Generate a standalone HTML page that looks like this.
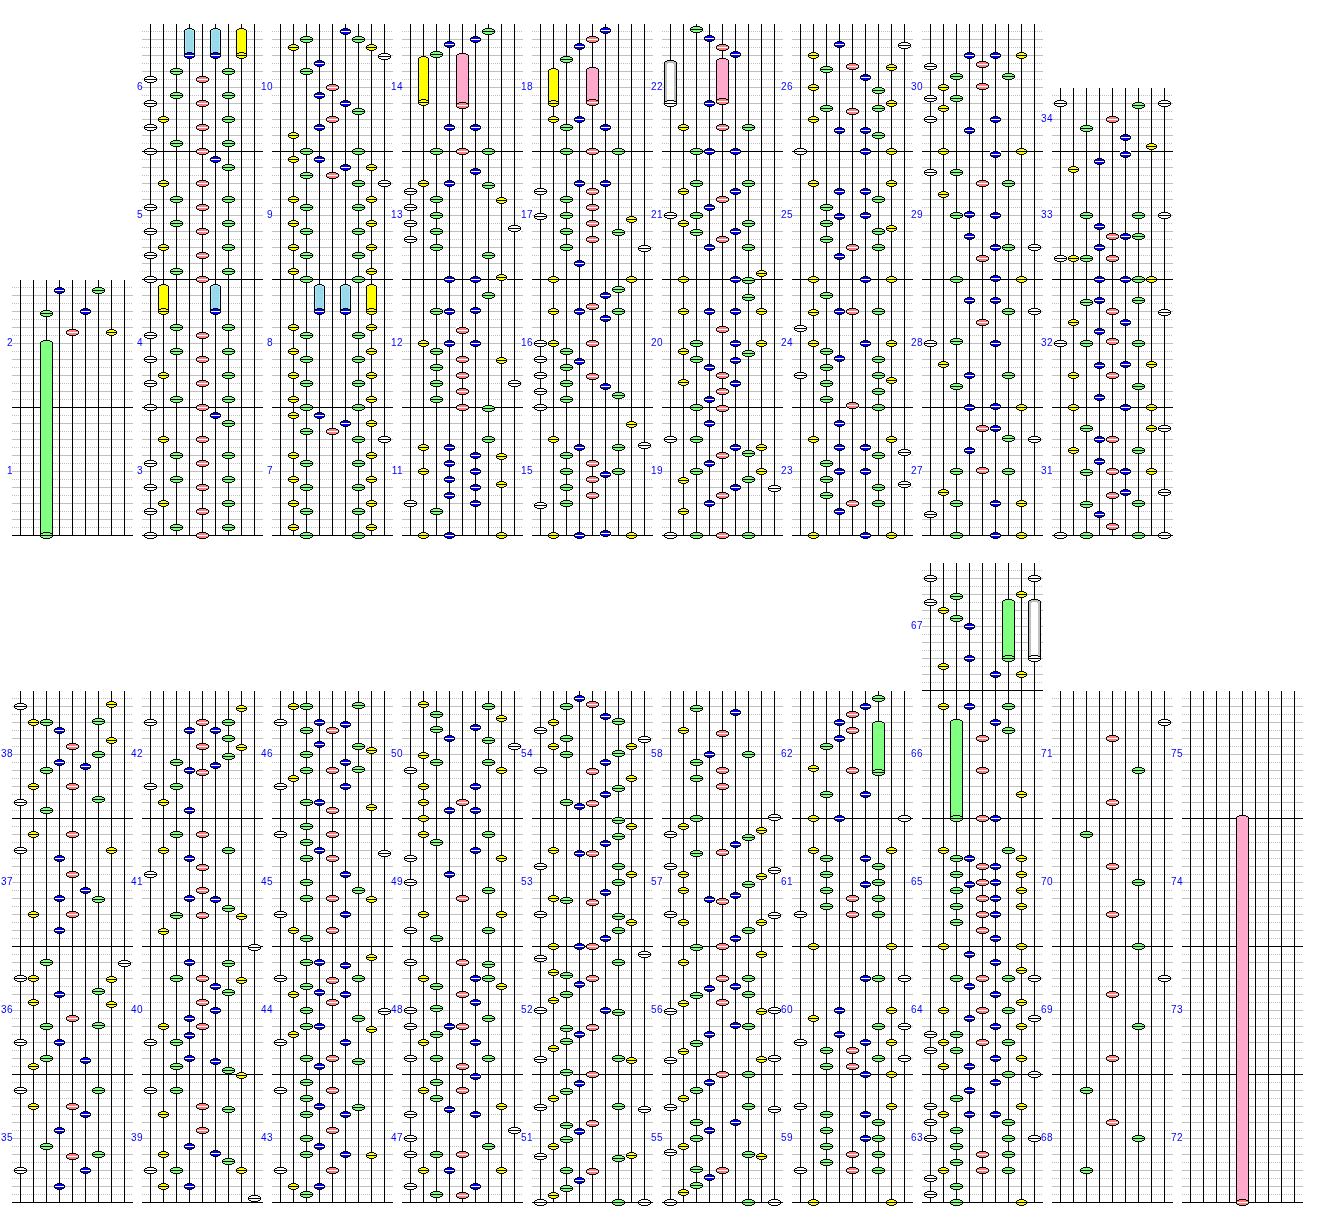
<!DOCTYPE html><html><head><meta charset="utf-8"><title>chart</title><style>html,body{margin:0;padding:0;background:#fff}svg{display:block}text{font-family:"Liberation Sans",sans-serif;font-size:10px;fill:#0000ff;letter-spacing:.45px}</style></head><body>
<svg width="1320" height="1220" viewBox="0 0 1320 1220" shape-rendering="crispEdges">
<defs>
<symbol id="nw" overflow="visible"><path fill="#fff" d="M-6-3h3v1h-3zM4-3h3v1h-3zM-6 3h3v1h-3zM4 3h3v1h-3zM-6-2h1v1h-1zM6-2h1v1h-1zM-6 2h1v1h-1zM6 2h1v1h-1z"/><path d="M-3-3h7v1h2v1h1v3h-1v1h-2v1h-7v-1h-2v-1h-1v-3h1v-1h2z" fill="#000"/><path d="M-3-2h7v1h2v1h-11v-1h2z M-5 1h11v1h-2v1h-7v-1h-2z" fill="#ffffff"/></symbol>
<symbol id="ng" overflow="visible"><path fill="#fff" d="M-6-3h3v1h-3zM4-3h3v1h-3zM-6 3h3v1h-3zM4 3h3v1h-3zM-6-2h1v1h-1zM6-2h1v1h-1zM-6 2h1v1h-1zM6 2h1v1h-1z"/><path d="M-3-3h7v1h2v1h1v3h-1v1h-2v1h-7v-1h-2v-1h-1v-3h1v-1h2z" fill="#000"/><path d="M-3-2h7v1h2v1h-11v-1h2z M-5 1h11v1h-2v1h-7v-1h-2z" fill="#80ff80"/></symbol>
<symbol id="np" overflow="visible"><path fill="#fff" d="M-6-3h3v1h-3zM4-3h3v1h-3zM-6 3h3v1h-3zM4 3h3v1h-3zM-6-2h1v1h-1zM6-2h1v1h-1zM-6 2h1v1h-1zM6 2h1v1h-1z"/><path d="M-3-3h7v1h2v1h1v3h-1v1h-2v1h-7v-1h-2v-1h-1v-3h1v-1h2z" fill="#000"/><path d="M-3-2h7v1h2v1h-11v-1h2z M-5 1h11v1h-2v1h-7v-1h-2z" fill="#ff8080"/><rect x="-5" y="0" width="11" height="1" fill="#fff"/></symbol>
<symbol id="ny" overflow="visible"><path fill="#fff" d="M-5-3h3v1h-3zM3-3h3v1h-3zM-5 3h3v1h-3zM3 3h3v1h-3zM-5-2h1v1h-1zM5-2h1v1h-1zM-5 2h1v1h-1zM5 2h1v1h-1z"/><path d="M-2-3h5v1h2v1h1v3h-1v1h-2v1h-5v-1h-2v-1h-1v-3h1v-1h2z" fill="#000"/><path d="M-2-2h5v1h2v1h-9v-1h2z M-4 1h9v1h-2v1h-5v-1h-2z" fill="#ffff00"/></symbol>
<symbol id="nb" overflow="visible"><path fill="#fff" d="M-5-3h3v1h-3zM3-3h3v1h-3zM-5 3h3v1h-3zM3 3h3v1h-3zM-5-2h1v1h-1zM5-2h1v1h-1zM-5 2h1v1h-1zM5 2h1v1h-1z"/><path d="M-2-3h5v1h2v1h1v3h-1v1h-2v1h-5v-1h-2v-1h-1v-3h1v-1h2z" fill="#000"/><path d="M-2-2h5v1h2v1h-9v-1h2z M-4 1h9v1h-2v1h-5v-1h-2z" fill="#0000ff"/><rect x="-4" y="0" width="9" height="1" fill="#fff"/></symbol>
<symbol id="hw" overflow="visible"><path d="M-3-3h7v1h2v1h1v3h-1v1h-2v1h-7v-1h-2v-1h-1v-3h1v-1h2z" fill="#000"/><path d="M-3-2h7v1h2v1h-11v-1h2z M-5 1h11v1h-2v1h-7v-1h-2z" fill="#ffffff"/></symbol>
<symbol id="hg" overflow="visible"><path d="M-3-3h7v1h2v1h1v3h-1v1h-2v1h-7v-1h-2v-1h-1v-3h1v-1h2z" fill="#000"/><path d="M-3-2h7v1h2v1h-11v-1h2z M-5 1h11v1h-2v1h-7v-1h-2z" fill="#80ff80"/></symbol>
<symbol id="hp" overflow="visible"><path d="M-3-3h7v1h2v1h1v3h-1v1h-2v1h-7v-1h-2v-1h-1v-3h1v-1h2z" fill="#000"/><path d="M-3-2h7v1h2v1h-11v-1h2z M-5 1h11v1h-2v1h-7v-1h-2z" fill="#ff8080"/><rect x="-5" y="0" width="11" height="1" fill="#fff"/></symbol>
<symbol id="hy" overflow="visible"><path d="M-2-3h5v1h2v1h1v3h-1v1h-2v1h-5v-1h-2v-1h-1v-3h1v-1h2z" fill="#000"/><path d="M-2-2h5v1h2v1h-9v-1h2z M-4 1h9v1h-2v1h-5v-1h-2z" fill="#ffff00"/></symbol>
<symbol id="hb" overflow="visible"><path d="M-2-3h5v1h2v1h1v3h-1v1h-2v1h-5v-1h-2v-1h-1v-3h1v-1h2z" fill="#000"/><path d="M-2-2h5v1h2v1h-9v-1h2z M-4 1h9v1h-2v1h-5v-1h-2z" fill="#0000ff"/><rect x="-4" y="0" width="9" height="1" fill="#fff"/></symbol>
<symbol id="dl" overflow="visible"><path fill="#c0c0c0" d="M0 0h1v1h-1zM2 0h1v1h-1zM4 0h1v1h-1zM6 0h1v1h-1zM9 0h1v1h-1zM11 0h1v1h-1zM13 0h1v1h-1zM15 0h1v1h-1zM17 0h1v1h-1zM19 0h1v1h-1zM22 0h1v1h-1zM24 0h1v1h-1zM26 0h1v1h-1zM28 0h1v1h-1zM30 0h1v1h-1zM32 0h1v1h-1zM35 0h1v1h-1zM37 0h1v1h-1zM39 0h1v1h-1zM41 0h1v1h-1zM43 0h1v1h-1zM45 0h1v1h-1zM48 0h1v1h-1zM50 0h1v1h-1zM52 0h1v1h-1zM54 0h1v1h-1zM56 0h1v1h-1zM58 0h1v1h-1zM61 0h1v1h-1zM63 0h1v1h-1zM65 0h1v1h-1zM67 0h1v1h-1zM69 0h1v1h-1zM71 0h1v1h-1zM74 0h1v1h-1zM76 0h1v1h-1zM78 0h1v1h-1zM80 0h1v1h-1zM82 0h1v1h-1zM84 0h1v1h-1zM87 0h1v1h-1zM89 0h1v1h-1zM91 0h1v1h-1zM93 0h1v1h-1zM95 0h1v1h-1zM97 0h1v1h-1zM100 0h1v1h-1zM102 0h1v1h-1zM104 0h1v1h-1zM106 0h1v1h-1zM108 0h1v1h-1zM110 0h1v1h-1zM113 0h1v1h-1zM115 0h1v1h-1zM117 0h1v1h-1zM119 0h1v1h-1z"/></symbol>
<symbol id="mg" overflow="visible"><use href="#dl" y="-8"/><rect x="0" y="-16" width="121" height="1" fill="#c0c0c0"/><use href="#dl" y="-24"/><rect x="0" y="-32" width="121" height="1" fill="#c0c0c0"/><use href="#dl" y="-40"/><rect x="0" y="-48" width="121" height="1" fill="#c0c0c0"/><use href="#dl" y="-56"/><rect x="0" y="-64" width="121" height="1" fill="#c0c0c0"/><use href="#dl" y="-72"/><rect x="0" y="-80" width="121" height="1" fill="#c0c0c0"/><use href="#dl" y="-88"/><rect x="0" y="-96" width="121" height="1" fill="#c0c0c0"/><use href="#dl" y="-104"/><rect x="0" y="-112" width="121" height="1" fill="#c0c0c0"/><use href="#dl" y="-120"/></symbol>
</defs>
<use href="#mg" x="12" y="535"/>
<use href="#mg" x="12" y="407"/>
<rect x="20" y="280" width="1" height="255"/>
<rect x="33" y="280" width="1" height="255"/>
<rect x="46" y="280" width="1" height="255"/>
<rect x="59" y="280" width="1" height="255"/>
<rect x="72" y="280" width="1" height="255"/>
<rect x="85" y="280" width="1" height="255"/>
<rect x="98" y="280" width="1" height="255"/>
<rect x="111" y="280" width="1" height="255"/>
<rect x="124" y="280" width="1" height="255"/>
<rect x="12" y="535" width="121" height="1"/>
<rect x="12" y="407" width="121" height="1"/>
<rect x="7" y="466" width="5" height="9" fill="#fff"/>
<text x="13" y="474" text-anchor="end">1</text>
<rect x="7" y="338" width="5" height="9" fill="#fff"/>
<text x="13" y="346" text-anchor="end">2</text>
<use href="#mg" x="142" y="535"/>
<use href="#mg" x="142" y="407"/>
<use href="#mg" x="142" y="279"/>
<use href="#mg" x="142" y="151"/>
<rect x="150" y="24" width="1" height="511"/>
<rect x="163" y="24" width="1" height="511"/>
<rect x="176" y="24" width="1" height="511"/>
<rect x="189" y="24" width="1" height="511"/>
<rect x="202" y="24" width="1" height="511"/>
<rect x="215" y="24" width="1" height="511"/>
<rect x="228" y="24" width="1" height="511"/>
<rect x="241" y="24" width="1" height="511"/>
<rect x="254" y="24" width="1" height="511"/>
<rect x="142" y="535" width="121" height="1"/>
<rect x="142" y="407" width="121" height="1"/>
<rect x="142" y="279" width="121" height="1"/>
<rect x="142" y="151" width="121" height="1"/>
<rect x="137" y="466" width="5" height="9" fill="#fff"/>
<text x="143" y="474" text-anchor="end">3</text>
<rect x="137" y="338" width="5" height="9" fill="#fff"/>
<text x="143" y="346" text-anchor="end">4</text>
<rect x="137" y="210" width="5" height="9" fill="#fff"/>
<text x="143" y="218" text-anchor="end">5</text>
<rect x="137" y="82" width="5" height="9" fill="#fff"/>
<text x="143" y="90" text-anchor="end">6</text>
<use href="#mg" x="272" y="535"/>
<use href="#mg" x="272" y="407"/>
<use href="#mg" x="272" y="279"/>
<use href="#mg" x="272" y="151"/>
<rect x="280" y="24" width="1" height="511"/>
<rect x="293" y="24" width="1" height="511"/>
<rect x="306" y="24" width="1" height="511"/>
<rect x="319" y="24" width="1" height="511"/>
<rect x="332" y="24" width="1" height="511"/>
<rect x="345" y="24" width="1" height="511"/>
<rect x="358" y="24" width="1" height="511"/>
<rect x="371" y="24" width="1" height="511"/>
<rect x="384" y="24" width="1" height="511"/>
<rect x="272" y="535" width="121" height="1"/>
<rect x="272" y="407" width="121" height="1"/>
<rect x="272" y="279" width="121" height="1"/>
<rect x="272" y="151" width="121" height="1"/>
<rect x="267" y="466" width="5" height="9" fill="#fff"/>
<text x="273" y="474" text-anchor="end">7</text>
<rect x="267" y="338" width="5" height="9" fill="#fff"/>
<text x="273" y="346" text-anchor="end">8</text>
<rect x="267" y="210" width="5" height="9" fill="#fff"/>
<text x="273" y="218" text-anchor="end">9</text>
<rect x="261" y="82" width="11" height="9" fill="#fff"/>
<text x="273" y="90" text-anchor="end">10</text>
<use href="#mg" x="402" y="535"/>
<use href="#mg" x="402" y="407"/>
<use href="#mg" x="402" y="279"/>
<use href="#mg" x="402" y="151"/>
<rect x="410" y="24" width="1" height="511"/>
<rect x="423" y="24" width="1" height="511"/>
<rect x="436" y="24" width="1" height="511"/>
<rect x="449" y="24" width="1" height="511"/>
<rect x="462" y="24" width="1" height="511"/>
<rect x="475" y="24" width="1" height="511"/>
<rect x="488" y="24" width="1" height="511"/>
<rect x="501" y="24" width="1" height="511"/>
<rect x="514" y="24" width="1" height="511"/>
<rect x="402" y="535" width="121" height="1"/>
<rect x="402" y="407" width="121" height="1"/>
<rect x="402" y="279" width="121" height="1"/>
<rect x="402" y="151" width="121" height="1"/>
<rect x="391" y="466" width="11" height="9" fill="#fff"/>
<text x="403" y="474" text-anchor="end">11</text>
<rect x="391" y="338" width="11" height="9" fill="#fff"/>
<text x="403" y="346" text-anchor="end">12</text>
<rect x="391" y="210" width="11" height="9" fill="#fff"/>
<text x="403" y="218" text-anchor="end">13</text>
<rect x="391" y="82" width="11" height="9" fill="#fff"/>
<text x="403" y="90" text-anchor="end">14</text>
<use href="#mg" x="532" y="535"/>
<use href="#mg" x="532" y="407"/>
<use href="#mg" x="532" y="279"/>
<use href="#mg" x="532" y="151"/>
<rect x="540" y="24" width="1" height="511"/>
<rect x="553" y="24" width="1" height="511"/>
<rect x="566" y="24" width="1" height="511"/>
<rect x="579" y="24" width="1" height="511"/>
<rect x="592" y="24" width="1" height="511"/>
<rect x="605" y="24" width="1" height="511"/>
<rect x="618" y="24" width="1" height="511"/>
<rect x="631" y="24" width="1" height="511"/>
<rect x="644" y="24" width="1" height="511"/>
<rect x="532" y="535" width="121" height="1"/>
<rect x="532" y="407" width="121" height="1"/>
<rect x="532" y="279" width="121" height="1"/>
<rect x="532" y="151" width="121" height="1"/>
<rect x="521" y="466" width="11" height="9" fill="#fff"/>
<text x="533" y="474" text-anchor="end">15</text>
<rect x="521" y="338" width="11" height="9" fill="#fff"/>
<text x="533" y="346" text-anchor="end">16</text>
<rect x="521" y="210" width="11" height="9" fill="#fff"/>
<text x="533" y="218" text-anchor="end">17</text>
<rect x="521" y="82" width="11" height="9" fill="#fff"/>
<text x="533" y="90" text-anchor="end">18</text>
<use href="#mg" x="662" y="535"/>
<use href="#mg" x="662" y="407"/>
<use href="#mg" x="662" y="279"/>
<use href="#mg" x="662" y="151"/>
<rect x="670" y="24" width="1" height="511"/>
<rect x="683" y="24" width="1" height="511"/>
<rect x="696" y="24" width="1" height="511"/>
<rect x="709" y="24" width="1" height="511"/>
<rect x="722" y="24" width="1" height="511"/>
<rect x="735" y="24" width="1" height="511"/>
<rect x="748" y="24" width="1" height="511"/>
<rect x="761" y="24" width="1" height="511"/>
<rect x="774" y="24" width="1" height="511"/>
<rect x="662" y="535" width="121" height="1"/>
<rect x="662" y="407" width="121" height="1"/>
<rect x="662" y="279" width="121" height="1"/>
<rect x="662" y="151" width="121" height="1"/>
<rect x="651" y="466" width="11" height="9" fill="#fff"/>
<text x="663" y="474" text-anchor="end">19</text>
<rect x="651" y="338" width="11" height="9" fill="#fff"/>
<text x="663" y="346" text-anchor="end">20</text>
<rect x="651" y="210" width="11" height="9" fill="#fff"/>
<text x="663" y="218" text-anchor="end">21</text>
<rect x="651" y="82" width="11" height="9" fill="#fff"/>
<text x="663" y="90" text-anchor="end">22</text>
<use href="#mg" x="792" y="535"/>
<use href="#mg" x="792" y="407"/>
<use href="#mg" x="792" y="279"/>
<use href="#mg" x="792" y="151"/>
<rect x="800" y="24" width="1" height="511"/>
<rect x="813" y="24" width="1" height="511"/>
<rect x="826" y="24" width="1" height="511"/>
<rect x="839" y="24" width="1" height="511"/>
<rect x="852" y="24" width="1" height="511"/>
<rect x="865" y="24" width="1" height="511"/>
<rect x="878" y="24" width="1" height="511"/>
<rect x="891" y="24" width="1" height="511"/>
<rect x="904" y="24" width="1" height="511"/>
<rect x="792" y="535" width="121" height="1"/>
<rect x="792" y="407" width="121" height="1"/>
<rect x="792" y="279" width="121" height="1"/>
<rect x="792" y="151" width="121" height="1"/>
<rect x="781" y="466" width="11" height="9" fill="#fff"/>
<text x="793" y="474" text-anchor="end">23</text>
<rect x="781" y="338" width="11" height="9" fill="#fff"/>
<text x="793" y="346" text-anchor="end">24</text>
<rect x="781" y="210" width="11" height="9" fill="#fff"/>
<text x="793" y="218" text-anchor="end">25</text>
<rect x="781" y="82" width="11" height="9" fill="#fff"/>
<text x="793" y="90" text-anchor="end">26</text>
<use href="#mg" x="922" y="535"/>
<use href="#mg" x="922" y="407"/>
<use href="#mg" x="922" y="279"/>
<use href="#mg" x="922" y="151"/>
<rect x="930" y="24" width="1" height="511"/>
<rect x="943" y="24" width="1" height="511"/>
<rect x="956" y="24" width="1" height="511"/>
<rect x="969" y="24" width="1" height="511"/>
<rect x="982" y="24" width="1" height="511"/>
<rect x="995" y="24" width="1" height="511"/>
<rect x="1008" y="24" width="1" height="511"/>
<rect x="1021" y="24" width="1" height="511"/>
<rect x="1034" y="24" width="1" height="511"/>
<rect x="922" y="535" width="121" height="1"/>
<rect x="922" y="407" width="121" height="1"/>
<rect x="922" y="279" width="121" height="1"/>
<rect x="922" y="151" width="121" height="1"/>
<rect x="911" y="466" width="11" height="9" fill="#fff"/>
<text x="923" y="474" text-anchor="end">27</text>
<rect x="911" y="338" width="11" height="9" fill="#fff"/>
<text x="923" y="346" text-anchor="end">28</text>
<rect x="911" y="210" width="11" height="9" fill="#fff"/>
<text x="923" y="218" text-anchor="end">29</text>
<rect x="911" y="82" width="11" height="9" fill="#fff"/>
<text x="923" y="90" text-anchor="end">30</text>
<use href="#mg" x="1052" y="535"/>
<use href="#mg" x="1052" y="407"/>
<use href="#mg" x="1052" y="279"/>
<use href="#dl" x="1052" y="143"/>
<rect x="1052" y="135" width="121" height="1" fill="#c0c0c0"/>
<use href="#dl" x="1052" y="127"/>
<rect x="1052" y="119" width="121" height="1" fill="#c0c0c0"/>
<use href="#dl" x="1052" y="111"/>
<rect x="1052" y="103" width="121" height="1" fill="#c0c0c0"/>
<use href="#dl" x="1052" y="95"/>
<rect x="1060" y="88" width="1" height="447"/>
<rect x="1073" y="88" width="1" height="447"/>
<rect x="1086" y="88" width="1" height="447"/>
<rect x="1099" y="88" width="1" height="447"/>
<rect x="1112" y="88" width="1" height="447"/>
<rect x="1125" y="88" width="1" height="447"/>
<rect x="1138" y="88" width="1" height="447"/>
<rect x="1151" y="88" width="1" height="447"/>
<rect x="1164" y="88" width="1" height="447"/>
<rect x="1052" y="535" width="121" height="1"/>
<rect x="1052" y="407" width="121" height="1"/>
<rect x="1052" y="279" width="121" height="1"/>
<rect x="1052" y="151" width="121" height="1"/>
<rect x="1041" y="466" width="11" height="9" fill="#fff"/>
<text x="1053" y="474" text-anchor="end">31</text>
<rect x="1041" y="338" width="11" height="9" fill="#fff"/>
<text x="1053" y="346" text-anchor="end">32</text>
<rect x="1041" y="210" width="11" height="9" fill="#fff"/>
<text x="1053" y="218" text-anchor="end">33</text>
<rect x="1041" y="114" width="11" height="9" fill="#fff"/>
<text x="1053" y="122" text-anchor="end">34</text>
<use href="#mg" x="12" y="1202"/>
<use href="#mg" x="12" y="1074"/>
<use href="#mg" x="12" y="946"/>
<use href="#mg" x="12" y="818"/>
<rect x="20" y="691" width="1" height="511"/>
<rect x="33" y="691" width="1" height="511"/>
<rect x="46" y="691" width="1" height="511"/>
<rect x="59" y="691" width="1" height="511"/>
<rect x="72" y="691" width="1" height="511"/>
<rect x="85" y="691" width="1" height="511"/>
<rect x="98" y="691" width="1" height="511"/>
<rect x="111" y="691" width="1" height="511"/>
<rect x="124" y="691" width="1" height="511"/>
<rect x="12" y="1202" width="121" height="1"/>
<rect x="12" y="1074" width="121" height="1"/>
<rect x="12" y="946" width="121" height="1"/>
<rect x="12" y="818" width="121" height="1"/>
<rect x="1" y="1133" width="11" height="9" fill="#fff"/>
<text x="13" y="1141" text-anchor="end">35</text>
<rect x="1" y="1005" width="11" height="9" fill="#fff"/>
<text x="13" y="1013" text-anchor="end">36</text>
<rect x="1" y="877" width="11" height="9" fill="#fff"/>
<text x="13" y="885" text-anchor="end">37</text>
<rect x="1" y="749" width="11" height="9" fill="#fff"/>
<text x="13" y="757" text-anchor="end">38</text>
<use href="#mg" x="142" y="1202"/>
<use href="#mg" x="142" y="1074"/>
<use href="#mg" x="142" y="946"/>
<use href="#mg" x="142" y="818"/>
<rect x="150" y="691" width="1" height="511"/>
<rect x="163" y="691" width="1" height="511"/>
<rect x="176" y="691" width="1" height="511"/>
<rect x="189" y="691" width="1" height="511"/>
<rect x="202" y="691" width="1" height="511"/>
<rect x="215" y="691" width="1" height="511"/>
<rect x="228" y="691" width="1" height="511"/>
<rect x="241" y="691" width="1" height="511"/>
<rect x="254" y="691" width="1" height="511"/>
<rect x="142" y="1202" width="121" height="1"/>
<rect x="142" y="1074" width="121" height="1"/>
<rect x="142" y="946" width="121" height="1"/>
<rect x="142" y="818" width="121" height="1"/>
<rect x="131" y="1133" width="11" height="9" fill="#fff"/>
<text x="143" y="1141" text-anchor="end">39</text>
<rect x="131" y="1005" width="11" height="9" fill="#fff"/>
<text x="143" y="1013" text-anchor="end">40</text>
<rect x="131" y="877" width="11" height="9" fill="#fff"/>
<text x="143" y="885" text-anchor="end">41</text>
<rect x="131" y="749" width="11" height="9" fill="#fff"/>
<text x="143" y="757" text-anchor="end">42</text>
<use href="#mg" x="272" y="1202"/>
<use href="#mg" x="272" y="1074"/>
<use href="#mg" x="272" y="946"/>
<use href="#mg" x="272" y="818"/>
<rect x="280" y="691" width="1" height="511"/>
<rect x="293" y="691" width="1" height="511"/>
<rect x="306" y="691" width="1" height="511"/>
<rect x="319" y="691" width="1" height="511"/>
<rect x="332" y="691" width="1" height="511"/>
<rect x="345" y="691" width="1" height="511"/>
<rect x="358" y="691" width="1" height="511"/>
<rect x="371" y="691" width="1" height="511"/>
<rect x="384" y="691" width="1" height="511"/>
<rect x="272" y="1202" width="121" height="1"/>
<rect x="272" y="1074" width="121" height="1"/>
<rect x="272" y="946" width="121" height="1"/>
<rect x="272" y="818" width="121" height="1"/>
<rect x="261" y="1133" width="11" height="9" fill="#fff"/>
<text x="273" y="1141" text-anchor="end">43</text>
<rect x="261" y="1005" width="11" height="9" fill="#fff"/>
<text x="273" y="1013" text-anchor="end">44</text>
<rect x="261" y="877" width="11" height="9" fill="#fff"/>
<text x="273" y="885" text-anchor="end">45</text>
<rect x="261" y="749" width="11" height="9" fill="#fff"/>
<text x="273" y="757" text-anchor="end">46</text>
<use href="#mg" x="402" y="1202"/>
<use href="#mg" x="402" y="1074"/>
<use href="#mg" x="402" y="946"/>
<use href="#mg" x="402" y="818"/>
<rect x="410" y="691" width="1" height="511"/>
<rect x="423" y="691" width="1" height="511"/>
<rect x="436" y="691" width="1" height="511"/>
<rect x="449" y="691" width="1" height="511"/>
<rect x="462" y="691" width="1" height="511"/>
<rect x="475" y="691" width="1" height="511"/>
<rect x="488" y="691" width="1" height="511"/>
<rect x="501" y="691" width="1" height="511"/>
<rect x="514" y="691" width="1" height="511"/>
<rect x="402" y="1202" width="121" height="1"/>
<rect x="402" y="1074" width="121" height="1"/>
<rect x="402" y="946" width="121" height="1"/>
<rect x="402" y="818" width="121" height="1"/>
<rect x="391" y="1133" width="11" height="9" fill="#fff"/>
<text x="403" y="1141" text-anchor="end">47</text>
<rect x="391" y="1005" width="11" height="9" fill="#fff"/>
<text x="403" y="1013" text-anchor="end">48</text>
<rect x="391" y="877" width="11" height="9" fill="#fff"/>
<text x="403" y="885" text-anchor="end">49</text>
<rect x="391" y="749" width="11" height="9" fill="#fff"/>
<text x="403" y="757" text-anchor="end">50</text>
<use href="#mg" x="532" y="1202"/>
<use href="#mg" x="532" y="1074"/>
<use href="#mg" x="532" y="946"/>
<use href="#mg" x="532" y="818"/>
<rect x="540" y="691" width="1" height="511"/>
<rect x="553" y="691" width="1" height="511"/>
<rect x="566" y="691" width="1" height="511"/>
<rect x="579" y="691" width="1" height="511"/>
<rect x="592" y="691" width="1" height="511"/>
<rect x="605" y="691" width="1" height="511"/>
<rect x="618" y="691" width="1" height="511"/>
<rect x="631" y="691" width="1" height="511"/>
<rect x="644" y="691" width="1" height="511"/>
<rect x="532" y="1202" width="121" height="1"/>
<rect x="532" y="1074" width="121" height="1"/>
<rect x="532" y="946" width="121" height="1"/>
<rect x="532" y="818" width="121" height="1"/>
<rect x="521" y="1133" width="11" height="9" fill="#fff"/>
<text x="533" y="1141" text-anchor="end">51</text>
<rect x="521" y="1005" width="11" height="9" fill="#fff"/>
<text x="533" y="1013" text-anchor="end">52</text>
<rect x="521" y="877" width="11" height="9" fill="#fff"/>
<text x="533" y="885" text-anchor="end">53</text>
<rect x="521" y="749" width="11" height="9" fill="#fff"/>
<text x="533" y="757" text-anchor="end">54</text>
<use href="#mg" x="662" y="1202"/>
<use href="#mg" x="662" y="1074"/>
<use href="#mg" x="662" y="946"/>
<use href="#mg" x="662" y="818"/>
<rect x="670" y="691" width="1" height="511"/>
<rect x="683" y="691" width="1" height="511"/>
<rect x="696" y="691" width="1" height="511"/>
<rect x="709" y="691" width="1" height="511"/>
<rect x="722" y="691" width="1" height="511"/>
<rect x="735" y="691" width="1" height="511"/>
<rect x="748" y="691" width="1" height="511"/>
<rect x="761" y="691" width="1" height="511"/>
<rect x="774" y="691" width="1" height="511"/>
<rect x="662" y="1202" width="121" height="1"/>
<rect x="662" y="1074" width="121" height="1"/>
<rect x="662" y="946" width="121" height="1"/>
<rect x="662" y="818" width="121" height="1"/>
<rect x="651" y="1133" width="11" height="9" fill="#fff"/>
<text x="663" y="1141" text-anchor="end">55</text>
<rect x="651" y="1005" width="11" height="9" fill="#fff"/>
<text x="663" y="1013" text-anchor="end">56</text>
<rect x="651" y="877" width="11" height="9" fill="#fff"/>
<text x="663" y="885" text-anchor="end">57</text>
<rect x="651" y="749" width="11" height="9" fill="#fff"/>
<text x="663" y="757" text-anchor="end">58</text>
<use href="#mg" x="792" y="1202"/>
<use href="#mg" x="792" y="1074"/>
<use href="#mg" x="792" y="946"/>
<use href="#mg" x="792" y="818"/>
<rect x="800" y="691" width="1" height="511"/>
<rect x="813" y="691" width="1" height="511"/>
<rect x="826" y="691" width="1" height="511"/>
<rect x="839" y="691" width="1" height="511"/>
<rect x="852" y="691" width="1" height="511"/>
<rect x="865" y="691" width="1" height="511"/>
<rect x="878" y="691" width="1" height="511"/>
<rect x="891" y="691" width="1" height="511"/>
<rect x="904" y="691" width="1" height="511"/>
<rect x="792" y="1202" width="121" height="1"/>
<rect x="792" y="1074" width="121" height="1"/>
<rect x="792" y="946" width="121" height="1"/>
<rect x="792" y="818" width="121" height="1"/>
<rect x="781" y="1133" width="11" height="9" fill="#fff"/>
<text x="793" y="1141" text-anchor="end">59</text>
<rect x="781" y="1005" width="11" height="9" fill="#fff"/>
<text x="793" y="1013" text-anchor="end">60</text>
<rect x="781" y="877" width="11" height="9" fill="#fff"/>
<text x="793" y="885" text-anchor="end">61</text>
<rect x="781" y="749" width="11" height="9" fill="#fff"/>
<text x="793" y="757" text-anchor="end">62</text>
<use href="#mg" x="922" y="1202"/>
<use href="#mg" x="922" y="1074"/>
<use href="#mg" x="922" y="946"/>
<use href="#mg" x="922" y="818"/>
<use href="#mg" x="922" y="690"/>
<rect x="930" y="563" width="1" height="639"/>
<rect x="943" y="563" width="1" height="639"/>
<rect x="956" y="563" width="1" height="639"/>
<rect x="969" y="563" width="1" height="639"/>
<rect x="982" y="563" width="1" height="639"/>
<rect x="995" y="563" width="1" height="639"/>
<rect x="1008" y="563" width="1" height="639"/>
<rect x="1021" y="563" width="1" height="639"/>
<rect x="1034" y="563" width="1" height="639"/>
<rect x="922" y="1202" width="121" height="1"/>
<rect x="922" y="1074" width="121" height="1"/>
<rect x="922" y="946" width="121" height="1"/>
<rect x="922" y="818" width="121" height="1"/>
<rect x="922" y="690" width="121" height="1"/>
<rect x="911" y="1133" width="11" height="9" fill="#fff"/>
<text x="923" y="1141" text-anchor="end">63</text>
<rect x="911" y="1005" width="11" height="9" fill="#fff"/>
<text x="923" y="1013" text-anchor="end">64</text>
<rect x="911" y="877" width="11" height="9" fill="#fff"/>
<text x="923" y="885" text-anchor="end">65</text>
<rect x="911" y="749" width="11" height="9" fill="#fff"/>
<text x="923" y="757" text-anchor="end">66</text>
<rect x="911" y="621" width="11" height="9" fill="#fff"/>
<text x="923" y="629" text-anchor="end">67</text>
<use href="#mg" x="1052" y="1202"/>
<use href="#mg" x="1052" y="1074"/>
<use href="#mg" x="1052" y="946"/>
<use href="#mg" x="1052" y="818"/>
<rect x="1060" y="691" width="1" height="511"/>
<rect x="1073" y="691" width="1" height="511"/>
<rect x="1086" y="691" width="1" height="511"/>
<rect x="1099" y="691" width="1" height="511"/>
<rect x="1112" y="691" width="1" height="511"/>
<rect x="1125" y="691" width="1" height="511"/>
<rect x="1138" y="691" width="1" height="511"/>
<rect x="1151" y="691" width="1" height="511"/>
<rect x="1164" y="691" width="1" height="511"/>
<rect x="1052" y="1202" width="121" height="1"/>
<rect x="1052" y="1074" width="121" height="1"/>
<rect x="1052" y="946" width="121" height="1"/>
<rect x="1052" y="818" width="121" height="1"/>
<rect x="1041" y="1133" width="11" height="9" fill="#fff"/>
<text x="1053" y="1141" text-anchor="end">68</text>
<rect x="1041" y="1005" width="11" height="9" fill="#fff"/>
<text x="1053" y="1013" text-anchor="end">69</text>
<rect x="1041" y="877" width="11" height="9" fill="#fff"/>
<text x="1053" y="885" text-anchor="end">70</text>
<rect x="1041" y="749" width="11" height="9" fill="#fff"/>
<text x="1053" y="757" text-anchor="end">71</text>
<use href="#mg" x="1182" y="1202"/>
<use href="#mg" x="1182" y="1074"/>
<use href="#mg" x="1182" y="946"/>
<use href="#mg" x="1182" y="818"/>
<rect x="1190" y="691" width="1" height="511"/>
<rect x="1203" y="691" width="1" height="511"/>
<rect x="1216" y="691" width="1" height="511"/>
<rect x="1229" y="691" width="1" height="511"/>
<rect x="1242" y="691" width="1" height="511"/>
<rect x="1255" y="691" width="1" height="511"/>
<rect x="1268" y="691" width="1" height="511"/>
<rect x="1281" y="691" width="1" height="511"/>
<rect x="1294" y="691" width="1" height="511"/>
<rect x="1182" y="1202" width="121" height="1"/>
<rect x="1182" y="1074" width="121" height="1"/>
<rect x="1182" y="946" width="121" height="1"/>
<rect x="1182" y="818" width="121" height="1"/>
<rect x="1171" y="1133" width="11" height="9" fill="#fff"/>
<text x="1183" y="1141" text-anchor="end">72</text>
<rect x="1171" y="1005" width="11" height="9" fill="#fff"/>
<text x="1183" y="1013" text-anchor="end">73</text>
<rect x="1171" y="877" width="11" height="9" fill="#fff"/>
<text x="1183" y="885" text-anchor="end">74</text>
<rect x="1171" y="749" width="11" height="9" fill="#fff"/>
<text x="1183" y="757" text-anchor="end">75</text>
<use href="#ng" x="46" y="313"/>
<use href="#nb" x="59" y="290"/>
<use href="#np" x="72" y="332"/>
<use href="#nb" x="85" y="311"/>
<use href="#ng" x="98" y="290"/>
<use href="#ny" x="111" y="332"/>
<use href="#nw" x="150" y="535"/>
<use href="#nw" x="150" y="511"/>
<use href="#nw" x="150" y="487"/>
<use href="#nw" x="150" y="463"/>
<use href="#ny" x="163" y="503"/>
<use href="#ny" x="163" y="439"/>
<use href="#ng" x="176" y="527"/>
<use href="#ng" x="176" y="479"/>
<use href="#ng" x="176" y="455"/>
<use href="#np" x="202" y="535"/>
<use href="#np" x="202" y="511"/>
<use href="#np" x="202" y="487"/>
<use href="#np" x="202" y="463"/>
<use href="#np" x="202" y="439"/>
<use href="#nb" x="215" y="415"/>
<use href="#ng" x="228" y="527"/>
<use href="#ng" x="228" y="503"/>
<use href="#ng" x="228" y="479"/>
<use href="#ng" x="228" y="455"/>
<use href="#ng" x="228" y="423"/>
<use href="#nw" x="150" y="407"/>
<use href="#nw" x="150" y="383"/>
<use href="#nw" x="150" y="359"/>
<use href="#nw" x="150" y="335"/>
<use href="#ny" x="163" y="375"/>
<use href="#ng" x="176" y="399"/>
<use href="#ng" x="176" y="351"/>
<use href="#ng" x="176" y="327"/>
<use href="#np" x="202" y="407"/>
<use href="#np" x="202" y="383"/>
<use href="#np" x="202" y="359"/>
<use href="#np" x="202" y="335"/>
<use href="#ng" x="228" y="399"/>
<use href="#ng" x="228" y="375"/>
<use href="#ng" x="228" y="351"/>
<use href="#ng" x="228" y="327"/>
<use href="#nw" x="150" y="279"/>
<use href="#nw" x="150" y="255"/>
<use href="#nw" x="150" y="231"/>
<use href="#nw" x="150" y="207"/>
<use href="#ny" x="163" y="247"/>
<use href="#ny" x="163" y="183"/>
<use href="#ng" x="176" y="271"/>
<use href="#ng" x="176" y="223"/>
<use href="#ng" x="176" y="199"/>
<use href="#np" x="202" y="279"/>
<use href="#np" x="202" y="255"/>
<use href="#np" x="202" y="231"/>
<use href="#np" x="202" y="207"/>
<use href="#np" x="202" y="183"/>
<use href="#nb" x="215" y="159"/>
<use href="#ng" x="228" y="271"/>
<use href="#ng" x="228" y="247"/>
<use href="#ng" x="228" y="223"/>
<use href="#ng" x="228" y="199"/>
<use href="#ng" x="228" y="167"/>
<use href="#nw" x="150" y="151"/>
<use href="#nw" x="150" y="127"/>
<use href="#nw" x="150" y="103"/>
<use href="#nw" x="150" y="79"/>
<use href="#ny" x="163" y="119"/>
<use href="#ng" x="176" y="143"/>
<use href="#ng" x="176" y="95"/>
<use href="#ng" x="176" y="71"/>
<use href="#np" x="202" y="151"/>
<use href="#np" x="202" y="127"/>
<use href="#np" x="202" y="103"/>
<use href="#np" x="202" y="79"/>
<use href="#ng" x="228" y="143"/>
<use href="#ng" x="228" y="119"/>
<use href="#ng" x="228" y="95"/>
<use href="#ng" x="228" y="71"/>
<use href="#ny" x="293" y="527"/>
<use href="#ny" x="293" y="503"/>
<use href="#ny" x="293" y="479"/>
<use href="#ny" x="293" y="455"/>
<use href="#ny" x="293" y="415"/>
<use href="#ng" x="306" y="535"/>
<use href="#ng" x="306" y="511"/>
<use href="#ng" x="306" y="487"/>
<use href="#ng" x="306" y="463"/>
<use href="#ng" x="306" y="431"/>
<use href="#nb" x="319" y="415"/>
<use href="#np" x="332" y="431"/>
<use href="#nb" x="345" y="423"/>
<use href="#ng" x="358" y="535"/>
<use href="#ng" x="358" y="511"/>
<use href="#ng" x="358" y="487"/>
<use href="#ng" x="358" y="463"/>
<use href="#ng" x="358" y="439"/>
<use href="#ny" x="371" y="527"/>
<use href="#ny" x="371" y="503"/>
<use href="#ny" x="371" y="479"/>
<use href="#ny" x="371" y="455"/>
<use href="#ny" x="371" y="423"/>
<use href="#nw" x="384" y="439"/>
<use href="#ny" x="293" y="399"/>
<use href="#ny" x="293" y="375"/>
<use href="#ny" x="293" y="351"/>
<use href="#ny" x="293" y="327"/>
<use href="#ng" x="306" y="407"/>
<use href="#ng" x="306" y="383"/>
<use href="#ng" x="306" y="359"/>
<use href="#ng" x="306" y="335"/>
<use href="#ng" x="358" y="407"/>
<use href="#ng" x="358" y="383"/>
<use href="#ng" x="358" y="359"/>
<use href="#ng" x="358" y="335"/>
<use href="#ny" x="371" y="399"/>
<use href="#ny" x="371" y="375"/>
<use href="#ny" x="371" y="351"/>
<use href="#ny" x="371" y="327"/>
<use href="#ny" x="293" y="271"/>
<use href="#ny" x="293" y="247"/>
<use href="#ny" x="293" y="223"/>
<use href="#ny" x="293" y="199"/>
<use href="#ny" x="293" y="159"/>
<use href="#ng" x="306" y="279"/>
<use href="#ng" x="306" y="255"/>
<use href="#ng" x="306" y="231"/>
<use href="#ng" x="306" y="207"/>
<use href="#ng" x="306" y="175"/>
<use href="#nb" x="319" y="159"/>
<use href="#np" x="332" y="175"/>
<use href="#nb" x="345" y="167"/>
<use href="#ng" x="358" y="279"/>
<use href="#ng" x="358" y="255"/>
<use href="#ng" x="358" y="231"/>
<use href="#ng" x="358" y="207"/>
<use href="#ng" x="358" y="183"/>
<use href="#ny" x="371" y="271"/>
<use href="#ny" x="371" y="247"/>
<use href="#ny" x="371" y="223"/>
<use href="#ny" x="371" y="199"/>
<use href="#ny" x="371" y="167"/>
<use href="#nw" x="384" y="183"/>
<use href="#ny" x="293" y="135"/>
<use href="#ny" x="293" y="47"/>
<use href="#ng" x="306" y="151"/>
<use href="#ng" x="306" y="71"/>
<use href="#ng" x="306" y="39"/>
<use href="#nb" x="319" y="127"/>
<use href="#nb" x="319" y="95"/>
<use href="#nb" x="319" y="63"/>
<use href="#np" x="332" y="119"/>
<use href="#np" x="332" y="87"/>
<use href="#nb" x="345" y="103"/>
<use href="#nb" x="345" y="31"/>
<use href="#ng" x="358" y="151"/>
<use href="#ng" x="358" y="111"/>
<use href="#ng" x="358" y="39"/>
<use href="#ny" x="371" y="47"/>
<use href="#nw" x="384" y="56"/>
<use href="#nw" x="410" y="503"/>
<use href="#ny" x="423" y="535"/>
<use href="#ny" x="423" y="471"/>
<use href="#ny" x="423" y="447"/>
<use href="#ng" x="436" y="511"/>
<use href="#nb" x="449" y="535"/>
<use href="#nb" x="449" y="495"/>
<use href="#nb" x="449" y="479"/>
<use href="#nb" x="449" y="463"/>
<use href="#nb" x="449" y="447"/>
<use href="#nb" x="475" y="503"/>
<use href="#nb" x="475" y="487"/>
<use href="#nb" x="475" y="471"/>
<use href="#nb" x="475" y="455"/>
<use href="#ng" x="488" y="439"/>
<use href="#ng" x="488" y="408"/>
<use href="#ny" x="501" y="535"/>
<use href="#ny" x="501" y="484"/>
<use href="#ny" x="501" y="456"/>
<use href="#ny" x="423" y="343"/>
<use href="#ng" x="436" y="399"/>
<use href="#ng" x="436" y="383"/>
<use href="#ng" x="436" y="367"/>
<use href="#ng" x="436" y="351"/>
<use href="#ng" x="436" y="311"/>
<use href="#nb" x="449" y="343"/>
<use href="#nb" x="449" y="311"/>
<use href="#np" x="462" y="407"/>
<use href="#np" x="462" y="391"/>
<use href="#np" x="462" y="375"/>
<use href="#np" x="462" y="359"/>
<use href="#np" x="462" y="330"/>
<use href="#nb" x="475" y="343"/>
<use href="#nb" x="475" y="310"/>
<use href="#ng" x="488" y="295"/>
<use href="#ny" x="501" y="360"/>
<use href="#nw" x="514" y="383"/>
<use href="#nw" x="410" y="239"/>
<use href="#nw" x="410" y="223"/>
<use href="#nw" x="410" y="207"/>
<use href="#nw" x="410" y="191"/>
<use href="#ny" x="423" y="183"/>
<use href="#ng" x="436" y="247"/>
<use href="#ng" x="436" y="231"/>
<use href="#ng" x="436" y="215"/>
<use href="#ng" x="436" y="199"/>
<use href="#nb" x="449" y="279"/>
<use href="#nb" x="449" y="183"/>
<use href="#nb" x="475" y="279"/>
<use href="#nb" x="475" y="171"/>
<use href="#ng" x="488" y="255"/>
<use href="#ng" x="488" y="185"/>
<use href="#ny" x="501" y="277"/>
<use href="#ny" x="501" y="200"/>
<use href="#nw" x="514" y="228"/>
<use href="#ng" x="436" y="151"/>
<use href="#ng" x="436" y="54"/>
<use href="#nb" x="449" y="127"/>
<use href="#nb" x="449" y="44"/>
<use href="#np" x="462" y="151"/>
<use href="#nb" x="475" y="127"/>
<use href="#nb" x="475" y="39"/>
<use href="#ng" x="488" y="151"/>
<use href="#ng" x="488" y="31"/>
<use href="#nw" x="540" y="505"/>
<use href="#ny" x="553" y="535"/>
<use href="#ny" x="553" y="439"/>
<use href="#ng" x="566" y="503"/>
<use href="#ng" x="566" y="487"/>
<use href="#ng" x="566" y="471"/>
<use href="#ng" x="566" y="455"/>
<use href="#nb" x="579" y="535"/>
<use href="#nb" x="579" y="447"/>
<use href="#np" x="592" y="495"/>
<use href="#np" x="592" y="479"/>
<use href="#np" x="592" y="463"/>
<use href="#nb" x="605" y="533"/>
<use href="#nb" x="605" y="474"/>
<use href="#ng" x="618" y="471"/>
<use href="#ng" x="618" y="447"/>
<use href="#ny" x="631" y="535"/>
<use href="#ny" x="631" y="424"/>
<use href="#nw" x="644" y="445"/>
<use href="#nw" x="540" y="407"/>
<use href="#nw" x="540" y="391"/>
<use href="#nw" x="540" y="375"/>
<use href="#nw" x="540" y="359"/>
<use href="#nw" x="540" y="343"/>
<use href="#ny" x="553" y="343"/>
<use href="#ny" x="553" y="311"/>
<use href="#ng" x="566" y="399"/>
<use href="#ng" x="566" y="383"/>
<use href="#ng" x="566" y="367"/>
<use href="#ng" x="566" y="351"/>
<use href="#nb" x="579" y="361"/>
<use href="#nb" x="579" y="311"/>
<use href="#np" x="592" y="376"/>
<use href="#np" x="592" y="343"/>
<use href="#np" x="592" y="306"/>
<use href="#nb" x="605" y="386"/>
<use href="#nb" x="605" y="318"/>
<use href="#nb" x="605" y="295"/>
<use href="#ng" x="618" y="395"/>
<use href="#ng" x="618" y="311"/>
<use href="#ng" x="618" y="289"/>
<use href="#nw" x="540" y="216"/>
<use href="#nw" x="540" y="191"/>
<use href="#ny" x="553" y="279"/>
<use href="#ng" x="566" y="247"/>
<use href="#ng" x="566" y="231"/>
<use href="#ng" x="566" y="215"/>
<use href="#ng" x="566" y="199"/>
<use href="#nb" x="579" y="263"/>
<use href="#nb" x="579" y="183"/>
<use href="#np" x="592" y="239"/>
<use href="#np" x="592" y="223"/>
<use href="#np" x="592" y="207"/>
<use href="#np" x="592" y="191"/>
<use href="#nb" x="605" y="183"/>
<use href="#ng" x="618" y="232"/>
<use href="#ny" x="631" y="279"/>
<use href="#ny" x="631" y="219"/>
<use href="#nw" x="644" y="248"/>
<use href="#ny" x="553" y="119"/>
<use href="#ng" x="566" y="151"/>
<use href="#ng" x="566" y="127"/>
<use href="#ng" x="566" y="59"/>
<use href="#nb" x="579" y="119"/>
<use href="#nb" x="579" y="46"/>
<use href="#np" x="592" y="151"/>
<use href="#np" x="592" y="39"/>
<use href="#nb" x="605" y="127"/>
<use href="#nb" x="605" y="30"/>
<use href="#ng" x="618" y="151"/>
<use href="#nw" x="670" y="535"/>
<use href="#nw" x="670" y="439"/>
<use href="#ny" x="683" y="511"/>
<use href="#ny" x="683" y="480"/>
<use href="#ng" x="696" y="535"/>
<use href="#ng" x="696" y="471"/>
<use href="#ng" x="696" y="439"/>
<use href="#nb" x="709" y="503"/>
<use href="#nb" x="709" y="463"/>
<use href="#nb" x="709" y="423"/>
<use href="#np" x="722" y="535"/>
<use href="#np" x="722" y="495"/>
<use href="#np" x="722" y="455"/>
<use href="#np" x="722" y="408"/>
<use href="#nb" x="735" y="487"/>
<use href="#nb" x="735" y="447"/>
<use href="#ng" x="748" y="535"/>
<use href="#ng" x="748" y="479"/>
<use href="#ng" x="748" y="453"/>
<use href="#ny" x="761" y="471"/>
<use href="#ny" x="761" y="447"/>
<use href="#nw" x="774" y="488"/>
<use href="#ny" x="683" y="382"/>
<use href="#ny" x="683" y="351"/>
<use href="#ny" x="683" y="311"/>
<use href="#ng" x="696" y="407"/>
<use href="#ng" x="696" y="359"/>
<use href="#ng" x="696" y="343"/>
<use href="#nb" x="709" y="399"/>
<use href="#nb" x="709" y="367"/>
<use href="#nb" x="709" y="311"/>
<use href="#np" x="722" y="391"/>
<use href="#np" x="722" y="375"/>
<use href="#np" x="722" y="329"/>
<use href="#nb" x="735" y="383"/>
<use href="#nb" x="735" y="360"/>
<use href="#nb" x="735" y="343"/>
<use href="#nb" x="735" y="311"/>
<use href="#ng" x="748" y="353"/>
<use href="#ng" x="748" y="297"/>
<use href="#ng" x="748" y="280"/>
<use href="#ny" x="761" y="343"/>
<use href="#ny" x="761" y="311"/>
<use href="#nw" x="670" y="215"/>
<use href="#ny" x="683" y="279"/>
<use href="#ny" x="683" y="223"/>
<use href="#ny" x="683" y="191"/>
<use href="#ng" x="696" y="232"/>
<use href="#ng" x="696" y="215"/>
<use href="#ng" x="696" y="183"/>
<use href="#nb" x="709" y="247"/>
<use href="#nb" x="709" y="207"/>
<use href="#np" x="722" y="239"/>
<use href="#np" x="722" y="199"/>
<use href="#nb" x="735" y="279"/>
<use href="#nb" x="735" y="231"/>
<use href="#nb" x="735" y="191"/>
<use href="#ng" x="748" y="247"/>
<use href="#ng" x="748" y="223"/>
<use href="#ng" x="748" y="183"/>
<use href="#ny" x="761" y="273"/>
<use href="#ny" x="683" y="127"/>
<use href="#ng" x="696" y="151"/>
<use href="#ng" x="696" y="29"/>
<use href="#nb" x="709" y="151"/>
<use href="#nb" x="709" y="103"/>
<use href="#nb" x="709" y="38"/>
<use href="#np" x="722" y="127"/>
<use href="#np" x="722" y="47"/>
<use href="#nb" x="735" y="151"/>
<use href="#nb" x="735" y="54"/>
<use href="#ng" x="748" y="127"/>
<use href="#ny" x="813" y="535"/>
<use href="#ny" x="813" y="439"/>
<use href="#ng" x="826" y="495"/>
<use href="#ng" x="826" y="479"/>
<use href="#ng" x="826" y="463"/>
<use href="#nb" x="839" y="511"/>
<use href="#nb" x="839" y="471"/>
<use href="#nb" x="839" y="447"/>
<use href="#nb" x="839" y="423"/>
<use href="#np" x="852" y="503"/>
<use href="#nb" x="865" y="535"/>
<use href="#nb" x="865" y="471"/>
<use href="#nb" x="865" y="447"/>
<use href="#ng" x="878" y="503"/>
<use href="#ng" x="878" y="487"/>
<use href="#ng" x="878" y="455"/>
<use href="#ny" x="891" y="535"/>
<use href="#ny" x="891" y="439"/>
<use href="#nw" x="904" y="484"/>
<use href="#nw" x="904" y="452"/>
<use href="#nw" x="800" y="375"/>
<use href="#nw" x="800" y="328"/>
<use href="#ny" x="813" y="343"/>
<use href="#ny" x="813" y="312"/>
<use href="#ng" x="826" y="399"/>
<use href="#ng" x="826" y="383"/>
<use href="#ng" x="826" y="367"/>
<use href="#ng" x="826" y="351"/>
<use href="#ng" x="826" y="295"/>
<use href="#nb" x="839" y="358"/>
<use href="#nb" x="839" y="311"/>
<use href="#np" x="852" y="405"/>
<use href="#np" x="852" y="311"/>
<use href="#nb" x="865" y="343"/>
<use href="#ng" x="878" y="407"/>
<use href="#ng" x="878" y="391"/>
<use href="#ng" x="878" y="375"/>
<use href="#ng" x="878" y="359"/>
<use href="#ng" x="878" y="311"/>
<use href="#ny" x="891" y="380"/>
<use href="#ny" x="891" y="343"/>
<use href="#ny" x="813" y="279"/>
<use href="#ny" x="813" y="183"/>
<use href="#ng" x="826" y="239"/>
<use href="#ng" x="826" y="223"/>
<use href="#ng" x="826" y="207"/>
<use href="#nb" x="839" y="256"/>
<use href="#nb" x="839" y="216"/>
<use href="#nb" x="839" y="191"/>
<use href="#np" x="852" y="247"/>
<use href="#nb" x="865" y="279"/>
<use href="#nb" x="865" y="215"/>
<use href="#nb" x="865" y="191"/>
<use href="#ng" x="878" y="247"/>
<use href="#ng" x="878" y="231"/>
<use href="#ng" x="878" y="199"/>
<use href="#ny" x="891" y="279"/>
<use href="#ny" x="891" y="228"/>
<use href="#ny" x="891" y="183"/>
<use href="#nw" x="800" y="151"/>
<use href="#ny" x="813" y="119"/>
<use href="#ny" x="813" y="87"/>
<use href="#ny" x="813" y="55"/>
<use href="#ng" x="826" y="108"/>
<use href="#ng" x="826" y="69"/>
<use href="#nb" x="839" y="130"/>
<use href="#nb" x="839" y="44"/>
<use href="#np" x="852" y="111"/>
<use href="#np" x="852" y="66"/>
<use href="#nb" x="865" y="151"/>
<use href="#nb" x="865" y="130"/>
<use href="#nb" x="865" y="77"/>
<use href="#ng" x="878" y="135"/>
<use href="#ng" x="878" y="108"/>
<use href="#ng" x="878" y="90"/>
<use href="#ny" x="891" y="151"/>
<use href="#ny" x="891" y="103"/>
<use href="#ny" x="891" y="67"/>
<use href="#nw" x="904" y="45"/>
<use href="#nw" x="930" y="514"/>
<use href="#ny" x="943" y="492"/>
<use href="#ng" x="956" y="535"/>
<use href="#ng" x="956" y="503"/>
<use href="#ng" x="956" y="471"/>
<use href="#nb" x="969" y="450"/>
<use href="#np" x="982" y="470"/>
<use href="#np" x="982" y="428"/>
<use href="#nb" x="995" y="535"/>
<use href="#nb" x="995" y="503"/>
<use href="#nb" x="995" y="428"/>
<use href="#ng" x="1008" y="471"/>
<use href="#ng" x="1008" y="438"/>
<use href="#ny" x="1021" y="535"/>
<use href="#ny" x="1021" y="503"/>
<use href="#nw" x="1034" y="439"/>
<use href="#nw" x="930" y="343"/>
<use href="#ny" x="943" y="364"/>
<use href="#ng" x="956" y="386"/>
<use href="#ng" x="956" y="341"/>
<use href="#nb" x="969" y="407"/>
<use href="#nb" x="969" y="375"/>
<use href="#nb" x="969" y="300"/>
<use href="#np" x="982" y="322"/>
<use href="#nb" x="995" y="406"/>
<use href="#nb" x="995" y="343"/>
<use href="#nb" x="995" y="300"/>
<use href="#ng" x="1008" y="375"/>
<use href="#ng" x="1008" y="311"/>
<use href="#ny" x="1021" y="407"/>
<use href="#nw" x="1034" y="311"/>
<use href="#nw" x="930" y="172"/>
<use href="#ny" x="943" y="194"/>
<use href="#ng" x="956" y="279"/>
<use href="#ng" x="956" y="215"/>
<use href="#ng" x="956" y="172"/>
<use href="#nb" x="969" y="236"/>
<use href="#nb" x="969" y="214"/>
<use href="#np" x="982" y="258"/>
<use href="#np" x="982" y="183"/>
<use href="#nb" x="995" y="278"/>
<use href="#nb" x="995" y="247"/>
<use href="#nb" x="995" y="215"/>
<use href="#nb" x="995" y="154"/>
<use href="#ng" x="1008" y="247"/>
<use href="#ng" x="1008" y="183"/>
<use href="#ny" x="1021" y="279"/>
<use href="#nw" x="1034" y="247"/>
<use href="#nw" x="930" y="119"/>
<use href="#nw" x="930" y="98"/>
<use href="#nw" x="930" y="66"/>
<use href="#ny" x="943" y="151"/>
<use href="#ny" x="943" y="108"/>
<use href="#ny" x="943" y="87"/>
<use href="#ng" x="956" y="98"/>
<use href="#ng" x="956" y="76"/>
<use href="#nb" x="969" y="130"/>
<use href="#nb" x="969" y="55"/>
<use href="#np" x="982" y="86"/>
<use href="#np" x="982" y="64"/>
<use href="#nb" x="995" y="119"/>
<use href="#nb" x="995" y="55"/>
<use href="#ng" x="1008" y="76"/>
<use href="#ny" x="1021" y="151"/>
<use href="#ny" x="1021" y="55"/>
<use href="#nw" x="1060" y="535"/>
<use href="#ny" x="1073" y="450"/>
<use href="#ng" x="1086" y="535"/>
<use href="#ng" x="1086" y="504"/>
<use href="#ng" x="1086" y="472"/>
<use href="#ng" x="1086" y="428"/>
<use href="#nb" x="1099" y="514"/>
<use href="#nb" x="1099" y="461"/>
<use href="#nb" x="1099" y="439"/>
<use href="#np" x="1112" y="526"/>
<use href="#np" x="1112" y="495"/>
<use href="#np" x="1112" y="471"/>
<use href="#np" x="1112" y="439"/>
<use href="#nb" x="1125" y="492"/>
<use href="#nb" x="1125" y="471"/>
<use href="#ng" x="1138" y="535"/>
<use href="#ng" x="1138" y="503"/>
<use href="#ng" x="1138" y="450"/>
<use href="#ny" x="1151" y="471"/>
<use href="#ny" x="1151" y="428"/>
<use href="#nw" x="1164" y="535"/>
<use href="#nw" x="1164" y="492"/>
<use href="#nw" x="1164" y="428"/>
<use href="#nw" x="1060" y="343"/>
<use href="#ny" x="1073" y="407"/>
<use href="#ny" x="1073" y="375"/>
<use href="#ny" x="1073" y="322"/>
<use href="#ng" x="1086" y="343"/>
<use href="#ng" x="1086" y="302"/>
<use href="#nb" x="1099" y="397"/>
<use href="#nb" x="1099" y="365"/>
<use href="#nb" x="1099" y="331"/>
<use href="#nb" x="1099" y="300"/>
<use href="#np" x="1112" y="375"/>
<use href="#np" x="1112" y="341"/>
<use href="#np" x="1112" y="311"/>
<use href="#nb" x="1125" y="407"/>
<use href="#nb" x="1125" y="364"/>
<use href="#nb" x="1125" y="322"/>
<use href="#ng" x="1138" y="386"/>
<use href="#ng" x="1138" y="343"/>
<use href="#ng" x="1138" y="300"/>
<use href="#ny" x="1151" y="407"/>
<use href="#ny" x="1151" y="364"/>
<use href="#nw" x="1164" y="312"/>
<use href="#nw" x="1060" y="258"/>
<use href="#ny" x="1073" y="258"/>
<use href="#ny" x="1073" y="169"/>
<use href="#ng" x="1086" y="258"/>
<use href="#ng" x="1086" y="215"/>
<use href="#nb" x="1099" y="279"/>
<use href="#nb" x="1099" y="247"/>
<use href="#nb" x="1099" y="226"/>
<use href="#nb" x="1099" y="161"/>
<use href="#np" x="1112" y="258"/>
<use href="#np" x="1112" y="236"/>
<use href="#nb" x="1125" y="279"/>
<use href="#nb" x="1125" y="236"/>
<use href="#nb" x="1125" y="154"/>
<use href="#ng" x="1138" y="279"/>
<use href="#ng" x="1138" y="236"/>
<use href="#ng" x="1138" y="215"/>
<use href="#ny" x="1151" y="279"/>
<use href="#nw" x="1164" y="215"/>
<use href="#nw" x="1060" y="103"/>
<use href="#ng" x="1086" y="128"/>
<use href="#np" x="1112" y="119"/>
<use href="#nb" x="1125" y="137"/>
<use href="#ng" x="1138" y="105"/>
<use href="#ny" x="1151" y="146"/>
<use href="#nw" x="1164" y="103"/>
<use href="#nw" x="20" y="1170"/>
<use href="#nw" x="20" y="1090"/>
<use href="#ny" x="33" y="1106"/>
<use href="#ng" x="46" y="1146"/>
<use href="#nb" x="59" y="1186"/>
<use href="#nb" x="59" y="1130"/>
<use href="#np" x="72" y="1156"/>
<use href="#np" x="72" y="1106"/>
<use href="#nb" x="85" y="1170"/>
<use href="#nb" x="85" y="1114"/>
<use href="#ng" x="98" y="1154"/>
<use href="#ng" x="98" y="1090"/>
<use href="#nw" x="20" y="1042"/>
<use href="#nw" x="20" y="978"/>
<use href="#ny" x="33" y="1066"/>
<use href="#ny" x="33" y="1002"/>
<use href="#ny" x="33" y="978"/>
<use href="#ng" x="46" y="1058"/>
<use href="#ng" x="46" y="1026"/>
<use href="#ng" x="46" y="962"/>
<use href="#nb" x="59" y="1042"/>
<use href="#nb" x="59" y="994"/>
<use href="#np" x="72" y="1018"/>
<use href="#nb" x="85" y="1060"/>
<use href="#ng" x="98" y="1025"/>
<use href="#ng" x="98" y="991"/>
<use href="#ny" x="111" y="1004"/>
<use href="#ny" x="111" y="979"/>
<use href="#nw" x="124" y="963"/>
<use href="#nw" x="20" y="850"/>
<use href="#ny" x="33" y="914"/>
<use href="#ny" x="33" y="834"/>
<use href="#nb" x="59" y="930"/>
<use href="#nb" x="59" y="898"/>
<use href="#nb" x="59" y="858"/>
<use href="#np" x="72" y="914"/>
<use href="#np" x="72" y="874"/>
<use href="#np" x="72" y="834"/>
<use href="#nb" x="85" y="890"/>
<use href="#ng" x="98" y="899"/>
<use href="#ny" x="111" y="850"/>
<use href="#nw" x="20" y="802"/>
<use href="#nw" x="20" y="706"/>
<use href="#ny" x="33" y="786"/>
<use href="#ny" x="33" y="722"/>
<use href="#ng" x="46" y="810"/>
<use href="#ng" x="46" y="770"/>
<use href="#ng" x="46" y="722"/>
<use href="#nb" x="59" y="762"/>
<use href="#nb" x="59" y="730"/>
<use href="#np" x="72" y="786"/>
<use href="#np" x="72" y="746"/>
<use href="#nb" x="85" y="766"/>
<use href="#ng" x="98" y="799"/>
<use href="#ng" x="98" y="754"/>
<use href="#ng" x="98" y="721"/>
<use href="#ny" x="111" y="740"/>
<use href="#ny" x="111" y="704"/>
<use href="#nw" x="150" y="1170"/>
<use href="#nw" x="150" y="1090"/>
<use href="#ny" x="163" y="1186"/>
<use href="#ny" x="163" y="1154"/>
<use href="#ny" x="163" y="1114"/>
<use href="#ng" x="176" y="1170"/>
<use href="#ng" x="176" y="1090"/>
<use href="#nb" x="189" y="1186"/>
<use href="#nb" x="189" y="1146"/>
<use href="#np" x="202" y="1130"/>
<use href="#np" x="202" y="1106"/>
<use href="#nb" x="215" y="1153"/>
<use href="#ng" x="228" y="1161"/>
<use href="#ng" x="228" y="1109"/>
<use href="#ny" x="241" y="1170"/>
<use href="#ny" x="241" y="1075"/>
<use href="#nw" x="254" y="1198"/>
<use href="#nw" x="150" y="1042"/>
<use href="#ny" x="163" y="1026"/>
<use href="#ng" x="176" y="1066"/>
<use href="#ng" x="176" y="1042"/>
<use href="#ng" x="176" y="978"/>
<use href="#nb" x="189" y="1058"/>
<use href="#nb" x="189" y="1035"/>
<use href="#nb" x="189" y="1018"/>
<use href="#nb" x="189" y="962"/>
<use href="#np" x="202" y="1026"/>
<use href="#np" x="202" y="1002"/>
<use href="#np" x="202" y="978"/>
<use href="#nb" x="215" y="1061"/>
<use href="#nb" x="215" y="1010"/>
<use href="#nb" x="215" y="986"/>
<use href="#ng" x="228" y="1070"/>
<use href="#ng" x="228" y="992"/>
<use href="#ng" x="228" y="963"/>
<use href="#ny" x="241" y="980"/>
<use href="#nw" x="254" y="947"/>
<use href="#nw" x="150" y="874"/>
<use href="#ny" x="163" y="931"/>
<use href="#ny" x="163" y="850"/>
<use href="#ng" x="176" y="915"/>
<use href="#ng" x="176" y="834"/>
<use href="#nb" x="189" y="898"/>
<use href="#nb" x="189" y="858"/>
<use href="#np" x="202" y="915"/>
<use href="#np" x="202" y="890"/>
<use href="#np" x="202" y="867"/>
<use href="#np" x="202" y="834"/>
<use href="#nb" x="215" y="899"/>
<use href="#ng" x="228" y="908"/>
<use href="#ng" x="228" y="850"/>
<use href="#ny" x="241" y="916"/>
<use href="#nw" x="150" y="786"/>
<use href="#nw" x="150" y="722"/>
<use href="#ny" x="163" y="802"/>
<use href="#ng" x="176" y="786"/>
<use href="#ng" x="176" y="762"/>
<use href="#nb" x="189" y="810"/>
<use href="#nb" x="189" y="770"/>
<use href="#nb" x="189" y="730"/>
<use href="#np" x="202" y="772"/>
<use href="#np" x="202" y="746"/>
<use href="#np" x="202" y="722"/>
<use href="#nb" x="215" y="765"/>
<use href="#nb" x="215" y="730"/>
<use href="#ng" x="228" y="756"/>
<use href="#ng" x="228" y="738"/>
<use href="#ng" x="228" y="722"/>
<use href="#ny" x="241" y="747"/>
<use href="#ny" x="241" y="708"/>
<use href="#nw" x="280" y="1170"/>
<use href="#nw" x="280" y="1090"/>
<use href="#ny" x="293" y="1186"/>
<use href="#ng" x="306" y="1194"/>
<use href="#ng" x="306" y="1154"/>
<use href="#ng" x="306" y="1138"/>
<use href="#ng" x="306" y="1114"/>
<use href="#ng" x="306" y="1098"/>
<use href="#ng" x="306" y="1082"/>
<use href="#nb" x="319" y="1186"/>
<use href="#nb" x="319" y="1146"/>
<use href="#nb" x="319" y="1106"/>
<use href="#np" x="332" y="1170"/>
<use href="#np" x="332" y="1130"/>
<use href="#np" x="332" y="1090"/>
<use href="#nb" x="345" y="1154"/>
<use href="#nb" x="345" y="1114"/>
<use href="#ng" x="358" y="1107"/>
<use href="#ny" x="371" y="1155"/>
<use href="#nw" x="280" y="1042"/>
<use href="#nw" x="280" y="978"/>
<use href="#ny" x="293" y="1034"/>
<use href="#ny" x="293" y="994"/>
<use href="#ng" x="306" y="1058"/>
<use href="#ng" x="306" y="1026"/>
<use href="#ng" x="306" y="1010"/>
<use href="#ng" x="306" y="986"/>
<use href="#ng" x="306" y="962"/>
<use href="#nb" x="319" y="1066"/>
<use href="#nb" x="319" y="1026"/>
<use href="#nb" x="319" y="992"/>
<use href="#nb" x="319" y="962"/>
<use href="#np" x="332" y="1058"/>
<use href="#np" x="332" y="1002"/>
<use href="#np" x="332" y="980"/>
<use href="#nb" x="345" y="1042"/>
<use href="#nb" x="345" y="994"/>
<use href="#nb" x="345" y="965"/>
<use href="#ng" x="358" y="1061"/>
<use href="#ng" x="358" y="1018"/>
<use href="#ng" x="358" y="978"/>
<use href="#ny" x="371" y="1029"/>
<use href="#ny" x="371" y="957"/>
<use href="#nw" x="384" y="1011"/>
<use href="#nw" x="280" y="914"/>
<use href="#nw" x="280" y="834"/>
<use href="#ny" x="293" y="930"/>
<use href="#ng" x="306" y="938"/>
<use href="#ng" x="306" y="898"/>
<use href="#ng" x="306" y="882"/>
<use href="#ng" x="306" y="858"/>
<use href="#ng" x="306" y="842"/>
<use href="#ng" x="306" y="826"/>
<use href="#nb" x="319" y="850"/>
<use href="#np" x="332" y="930"/>
<use href="#np" x="332" y="898"/>
<use href="#np" x="332" y="858"/>
<use href="#np" x="332" y="834"/>
<use href="#nb" x="345" y="914"/>
<use href="#nb" x="345" y="874"/>
<use href="#ng" x="358" y="890"/>
<use href="#ny" x="371" y="899"/>
<use href="#nw" x="384" y="853"/>
<use href="#nw" x="280" y="786"/>
<use href="#nw" x="280" y="722"/>
<use href="#ny" x="293" y="778"/>
<use href="#ny" x="293" y="706"/>
<use href="#ng" x="306" y="802"/>
<use href="#ng" x="306" y="770"/>
<use href="#ng" x="306" y="754"/>
<use href="#ng" x="306" y="730"/>
<use href="#ng" x="306" y="706"/>
<use href="#nb" x="319" y="802"/>
<use href="#nb" x="319" y="744"/>
<use href="#nb" x="319" y="722"/>
<use href="#np" x="332" y="810"/>
<use href="#np" x="332" y="770"/>
<use href="#np" x="332" y="730"/>
<use href="#nb" x="345" y="786"/>
<use href="#nb" x="345" y="762"/>
<use href="#nb" x="345" y="724"/>
<use href="#ng" x="358" y="769"/>
<use href="#ng" x="358" y="746"/>
<use href="#ng" x="358" y="705"/>
<use href="#ny" x="371" y="807"/>
<use href="#ny" x="371" y="750"/>
<use href="#nw" x="410" y="1186"/>
<use href="#nw" x="410" y="1154"/>
<use href="#nw" x="410" y="1138"/>
<use href="#nw" x="410" y="1114"/>
<use href="#ny" x="423" y="1170"/>
<use href="#ny" x="423" y="1090"/>
<use href="#ng" x="436" y="1194"/>
<use href="#ng" x="436" y="1154"/>
<use href="#ng" x="436" y="1098"/>
<use href="#ng" x="436" y="1082"/>
<use href="#nb" x="449" y="1170"/>
<use href="#nb" x="449" y="1109"/>
<use href="#np" x="462" y="1195"/>
<use href="#np" x="462" y="1154"/>
<use href="#np" x="462" y="1090"/>
<use href="#nb" x="475" y="1186"/>
<use href="#nb" x="475" y="1114"/>
<use href="#nb" x="475" y="1076"/>
<use href="#ng" x="488" y="1146"/>
<use href="#ny" x="501" y="1170"/>
<use href="#ny" x="501" y="1106"/>
<use href="#nw" x="514" y="1130"/>
<use href="#nw" x="410" y="1058"/>
<use href="#nw" x="410" y="1026"/>
<use href="#nw" x="410" y="1010"/>
<use href="#nw" x="410" y="962"/>
<use href="#ny" x="423" y="1042"/>
<use href="#ny" x="423" y="978"/>
<use href="#ng" x="436" y="1058"/>
<use href="#ng" x="436" y="1034"/>
<use href="#ng" x="436" y="1008"/>
<use href="#ng" x="436" y="986"/>
<use href="#nb" x="449" y="1026"/>
<use href="#np" x="462" y="1066"/>
<use href="#np" x="462" y="1026"/>
<use href="#np" x="462" y="994"/>
<use href="#np" x="462" y="962"/>
<use href="#nb" x="475" y="1042"/>
<use href="#nb" x="475" y="1002"/>
<use href="#nb" x="475" y="978"/>
<use href="#ng" x="488" y="1058"/>
<use href="#ng" x="488" y="1018"/>
<use href="#ng" x="488" y="978"/>
<use href="#ng" x="488" y="964"/>
<use href="#ny" x="501" y="986"/>
<use href="#nw" x="410" y="930"/>
<use href="#nw" x="410" y="882"/>
<use href="#nw" x="410" y="858"/>
<use href="#ny" x="423" y="914"/>
<use href="#ny" x="423" y="834"/>
<use href="#ng" x="436" y="938"/>
<use href="#ng" x="436" y="842"/>
<use href="#nb" x="449" y="874"/>
<use href="#np" x="462" y="898"/>
<use href="#nb" x="475" y="850"/>
<use href="#ng" x="488" y="930"/>
<use href="#ng" x="488" y="890"/>
<use href="#ng" x="488" y="834"/>
<use href="#ny" x="501" y="914"/>
<use href="#ny" x="501" y="858"/>
<use href="#nw" x="410" y="770"/>
<use href="#ny" x="423" y="818"/>
<use href="#ny" x="423" y="802"/>
<use href="#ny" x="423" y="786"/>
<use href="#ny" x="423" y="755"/>
<use href="#ny" x="423" y="704"/>
<use href="#ng" x="436" y="762"/>
<use href="#ng" x="436" y="729"/>
<use href="#ng" x="436" y="714"/>
<use href="#nb" x="449" y="810"/>
<use href="#nb" x="449" y="738"/>
<use href="#np" x="462" y="802"/>
<use href="#nb" x="475" y="810"/>
<use href="#nb" x="475" y="786"/>
<use href="#nb" x="475" y="727"/>
<use href="#ng" x="488" y="762"/>
<use href="#ng" x="488" y="740"/>
<use href="#ng" x="488" y="706"/>
<use href="#ny" x="501" y="770"/>
<use href="#ny" x="501" y="718"/>
<use href="#nw" x="514" y="746"/>
<use href="#nw" x="540" y="1202"/>
<use href="#nw" x="540" y="1156"/>
<use href="#nw" x="540" y="1107"/>
<use href="#ny" x="553" y="1195"/>
<use href="#ny" x="553" y="1146"/>
<use href="#ny" x="553" y="1098"/>
<use href="#ng" x="566" y="1188"/>
<use href="#ng" x="566" y="1170"/>
<use href="#ng" x="566" y="1139"/>
<use href="#ng" x="566" y="1125"/>
<use href="#ng" x="566" y="1091"/>
<use href="#nb" x="579" y="1180"/>
<use href="#nb" x="579" y="1131"/>
<use href="#nb" x="579" y="1083"/>
<use href="#np" x="592" y="1171"/>
<use href="#np" x="592" y="1123"/>
<use href="#ng" x="618" y="1202"/>
<use href="#ng" x="618" y="1158"/>
<use href="#ng" x="618" y="1106"/>
<use href="#ny" x="631" y="1155"/>
<use href="#nw" x="644" y="1202"/>
<use href="#nw" x="644" y="1109"/>
<use href="#nw" x="540" y="1059"/>
<use href="#nw" x="540" y="1010"/>
<use href="#nw" x="540" y="958"/>
<use href="#ny" x="553" y="1048"/>
<use href="#ny" x="553" y="1000"/>
<use href="#ny" x="553" y="972"/>
<use href="#ng" x="566" y="1072"/>
<use href="#ng" x="566" y="1041"/>
<use href="#ng" x="566" y="1028"/>
<use href="#ng" x="566" y="994"/>
<use href="#ng" x="566" y="975"/>
<use href="#nb" x="579" y="1034"/>
<use href="#nb" x="579" y="984"/>
<use href="#np" x="592" y="1074"/>
<use href="#np" x="592" y="1027"/>
<use href="#np" x="592" y="978"/>
<use href="#nb" x="605" y="1010"/>
<use href="#ng" x="618" y="1058"/>
<use href="#ng" x="618" y="1012"/>
<use href="#ng" x="618" y="962"/>
<use href="#ny" x="631" y="1060"/>
<use href="#nw" x="644" y="954"/>
<use href="#nw" x="540" y="914"/>
<use href="#nw" x="540" y="866"/>
<use href="#ny" x="553" y="946"/>
<use href="#ny" x="553" y="898"/>
<use href="#ny" x="553" y="850"/>
<use href="#ng" x="566" y="900"/>
<use href="#nb" x="579" y="946"/>
<use href="#nb" x="579" y="853"/>
<use href="#np" x="592" y="946"/>
<use href="#np" x="592" y="902"/>
<use href="#np" x="592" y="853"/>
<use href="#nb" x="605" y="938"/>
<use href="#nb" x="605" y="892"/>
<use href="#nb" x="605" y="843"/>
<use href="#ng" x="618" y="930"/>
<use href="#ng" x="618" y="916"/>
<use href="#ng" x="618" y="882"/>
<use href="#ng" x="618" y="866"/>
<use href="#ng" x="618" y="836"/>
<use href="#ng" x="618" y="820"/>
<use href="#ny" x="631" y="922"/>
<use href="#ny" x="631" y="874"/>
<use href="#ny" x="631" y="826"/>
<use href="#nw" x="540" y="770"/>
<use href="#nw" x="540" y="730"/>
<use href="#ny" x="553" y="746"/>
<use href="#ny" x="553" y="722"/>
<use href="#ng" x="566" y="802"/>
<use href="#ng" x="566" y="754"/>
<use href="#ng" x="566" y="738"/>
<use href="#ng" x="566" y="706"/>
<use href="#nb" x="579" y="806"/>
<use href="#nb" x="579" y="698"/>
<use href="#np" x="592" y="803"/>
<use href="#np" x="592" y="771"/>
<use href="#np" x="592" y="704"/>
<use href="#nb" x="605" y="794"/>
<use href="#nb" x="605" y="762"/>
<use href="#nb" x="605" y="716"/>
<use href="#ng" x="618" y="788"/>
<use href="#ng" x="618" y="753"/>
<use href="#ng" x="618" y="721"/>
<use href="#ny" x="631" y="778"/>
<use href="#ny" x="631" y="746"/>
<use href="#nw" x="644" y="739"/>
<use href="#nw" x="670" y="1202"/>
<use href="#nw" x="670" y="1152"/>
<use href="#nw" x="670" y="1107"/>
<use href="#ny" x="683" y="1192"/>
<use href="#ny" x="683" y="1146"/>
<use href="#ny" x="683" y="1098"/>
<use href="#ng" x="696" y="1185"/>
<use href="#ng" x="696" y="1169"/>
<use href="#ng" x="696" y="1138"/>
<use href="#ng" x="696" y="1122"/>
<use href="#ng" x="696" y="1090"/>
<use href="#nb" x="709" y="1177"/>
<use href="#nb" x="709" y="1130"/>
<use href="#nb" x="709" y="1082"/>
<use href="#np" x="722" y="1170"/>
<use href="#nb" x="735" y="1122"/>
<use href="#ng" x="748" y="1202"/>
<use href="#ng" x="748" y="1154"/>
<use href="#ng" x="748" y="1106"/>
<use href="#ny" x="761" y="1156"/>
<use href="#nw" x="774" y="1202"/>
<use href="#nw" x="774" y="1109"/>
<use href="#nw" x="670" y="1060"/>
<use href="#nw" x="670" y="1011"/>
<use href="#ny" x="683" y="1051"/>
<use href="#ny" x="683" y="1003"/>
<use href="#ny" x="683" y="962"/>
<use href="#ng" x="696" y="1043"/>
<use href="#ng" x="696" y="995"/>
<use href="#ng" x="696" y="947"/>
<use href="#nb" x="709" y="1034"/>
<use href="#nb" x="709" y="988"/>
<use href="#np" x="722" y="1074"/>
<use href="#np" x="722" y="1002"/>
<use href="#np" x="722" y="978"/>
<use href="#nb" x="735" y="1025"/>
<use href="#nb" x="735" y="986"/>
<use href="#ng" x="748" y="1074"/>
<use href="#ng" x="748" y="1026"/>
<use href="#ng" x="748" y="994"/>
<use href="#ng" x="748" y="978"/>
<use href="#ny" x="761" y="1059"/>
<use href="#ny" x="761" y="1011"/>
<use href="#ny" x="761" y="954"/>
<use href="#nw" x="774" y="1058"/>
<use href="#nw" x="774" y="1010"/>
<use href="#nw" x="670" y="914"/>
<use href="#nw" x="670" y="866"/>
<use href="#nw" x="670" y="834"/>
<use href="#ny" x="683" y="922"/>
<use href="#ny" x="683" y="890"/>
<use href="#ny" x="683" y="874"/>
<use href="#ny" x="683" y="826"/>
<use href="#ng" x="696" y="853"/>
<use href="#nb" x="709" y="899"/>
<use href="#np" x="722" y="946"/>
<use href="#np" x="722" y="901"/>
<use href="#np" x="722" y="852"/>
<use href="#nb" x="735" y="938"/>
<use href="#nb" x="735" y="895"/>
<use href="#nb" x="735" y="844"/>
<use href="#ng" x="748" y="930"/>
<use href="#ng" x="748" y="884"/>
<use href="#ng" x="748" y="837"/>
<use href="#ny" x="761" y="922"/>
<use href="#ny" x="761" y="876"/>
<use href="#ny" x="761" y="830"/>
<use href="#nw" x="774" y="915"/>
<use href="#nw" x="774" y="870"/>
<use href="#ny" x="683" y="730"/>
<use href="#ng" x="696" y="818"/>
<use href="#ng" x="696" y="778"/>
<use href="#ng" x="696" y="762"/>
<use href="#ng" x="696" y="708"/>
<use href="#nb" x="709" y="754"/>
<use href="#np" x="722" y="786"/>
<use href="#np" x="722" y="770"/>
<use href="#np" x="722" y="733"/>
<use href="#nb" x="735" y="712"/>
<use href="#ng" x="748" y="754"/>
<use href="#nw" x="774" y="817"/>
<use href="#nw" x="800" y="1170"/>
<use href="#nw" x="800" y="1106"/>
<use href="#ny" x="813" y="1202"/>
<use href="#ng" x="826" y="1162"/>
<use href="#ng" x="826" y="1146"/>
<use href="#ng" x="826" y="1130"/>
<use href="#ng" x="826" y="1114"/>
<use href="#np" x="852" y="1170"/>
<use href="#np" x="852" y="1154"/>
<use href="#nb" x="865" y="1138"/>
<use href="#nb" x="865" y="1114"/>
<use href="#ng" x="878" y="1170"/>
<use href="#ng" x="878" y="1154"/>
<use href="#ng" x="878" y="1138"/>
<use href="#ng" x="878" y="1122"/>
<use href="#ny" x="891" y="1202"/>
<use href="#ny" x="891" y="1106"/>
<use href="#nw" x="800" y="1042"/>
<use href="#ny" x="813" y="1018"/>
<use href="#ng" x="826" y="1066"/>
<use href="#ng" x="826" y="1050"/>
<use href="#nb" x="839" y="1034"/>
<use href="#nb" x="839" y="1010"/>
<use href="#np" x="852" y="1066"/>
<use href="#np" x="852" y="1050"/>
<use href="#nb" x="865" y="1074"/>
<use href="#nb" x="865" y="1042"/>
<use href="#nb" x="865" y="978"/>
<use href="#ng" x="878" y="1058"/>
<use href="#ng" x="878" y="1026"/>
<use href="#ng" x="878" y="978"/>
<use href="#ny" x="891" y="1074"/>
<use href="#ny" x="891" y="1042"/>
<use href="#ny" x="891" y="1010"/>
<use href="#nw" x="904" y="1058"/>
<use href="#nw" x="904" y="1026"/>
<use href="#nw" x="904" y="978"/>
<use href="#nw" x="800" y="914"/>
<use href="#ny" x="813" y="946"/>
<use href="#ny" x="813" y="850"/>
<use href="#ng" x="826" y="906"/>
<use href="#ng" x="826" y="890"/>
<use href="#ng" x="826" y="874"/>
<use href="#ng" x="826" y="858"/>
<use href="#np" x="852" y="914"/>
<use href="#np" x="852" y="898"/>
<use href="#nb" x="865" y="884"/>
<use href="#nb" x="865" y="858"/>
<use href="#ng" x="878" y="914"/>
<use href="#ng" x="878" y="898"/>
<use href="#ng" x="878" y="882"/>
<use href="#ng" x="878" y="866"/>
<use href="#ny" x="891" y="946"/>
<use href="#ny" x="891" y="850"/>
<use href="#ny" x="813" y="818"/>
<use href="#ny" x="813" y="768"/>
<use href="#ng" x="826" y="794"/>
<use href="#ng" x="826" y="746"/>
<use href="#nb" x="839" y="818"/>
<use href="#nb" x="839" y="738"/>
<use href="#nb" x="839" y="722"/>
<use href="#np" x="852" y="770"/>
<use href="#np" x="852" y="730"/>
<use href="#np" x="852" y="714"/>
<use href="#nb" x="865" y="794"/>
<use href="#nb" x="865" y="706"/>
<use href="#ng" x="878" y="698"/>
<use href="#nw" x="904" y="818"/>
<use href="#nw" x="930" y="1194"/>
<use href="#nw" x="930" y="1178"/>
<use href="#nw" x="930" y="1138"/>
<use href="#nw" x="930" y="1122"/>
<use href="#nw" x="930" y="1106"/>
<use href="#ny" x="943" y="1170"/>
<use href="#ny" x="943" y="1114"/>
<use href="#ng" x="956" y="1202"/>
<use href="#ng" x="956" y="1186"/>
<use href="#ng" x="956" y="1162"/>
<use href="#ng" x="956" y="1146"/>
<use href="#ng" x="956" y="1130"/>
<use href="#ng" x="956" y="1098"/>
<use href="#nb" x="969" y="1114"/>
<use href="#nb" x="969" y="1090"/>
<use href="#np" x="982" y="1170"/>
<use href="#np" x="982" y="1154"/>
<use href="#nb" x="995" y="1114"/>
<use href="#nb" x="995" y="1082"/>
<use href="#ng" x="1008" y="1170"/>
<use href="#ng" x="1008" y="1154"/>
<use href="#ng" x="1008" y="1138"/>
<use href="#ng" x="1008" y="1122"/>
<use href="#ny" x="1021" y="1202"/>
<use href="#ny" x="1021" y="1106"/>
<use href="#nw" x="1034" y="1138"/>
<use href="#nw" x="930" y="1050"/>
<use href="#nw" x="930" y="1034"/>
<use href="#ny" x="943" y="1066"/>
<use href="#ny" x="943" y="1042"/>
<use href="#ny" x="943" y="1010"/>
<use href="#ng" x="956" y="1050"/>
<use href="#ng" x="956" y="1034"/>
<use href="#ng" x="956" y="978"/>
<use href="#nb" x="969" y="1066"/>
<use href="#nb" x="969" y="1018"/>
<use href="#nb" x="969" y="986"/>
<use href="#nb" x="969" y="954"/>
<use href="#np" x="982" y="1042"/>
<use href="#np" x="982" y="1010"/>
<use href="#np" x="982" y="978"/>
<use href="#nb" x="995" y="1058"/>
<use href="#nb" x="995" y="1026"/>
<use href="#nb" x="995" y="994"/>
<use href="#nb" x="995" y="962"/>
<use href="#ng" x="1008" y="1074"/>
<use href="#ng" x="1008" y="1042"/>
<use href="#ng" x="1008" y="1010"/>
<use href="#ng" x="1008" y="978"/>
<use href="#ny" x="1021" y="1058"/>
<use href="#ny" x="1021" y="1026"/>
<use href="#ny" x="1021" y="1002"/>
<use href="#ny" x="1021" y="970"/>
<use href="#nw" x="1034" y="1074"/>
<use href="#nw" x="1034" y="1018"/>
<use href="#nw" x="1034" y="978"/>
<use href="#ny" x="943" y="946"/>
<use href="#ny" x="943" y="850"/>
<use href="#ng" x="956" y="922"/>
<use href="#ng" x="956" y="906"/>
<use href="#ng" x="956" y="890"/>
<use href="#ng" x="956" y="874"/>
<use href="#ng" x="956" y="858"/>
<use href="#nb" x="969" y="884"/>
<use href="#nb" x="969" y="858"/>
<use href="#np" x="982" y="930"/>
<use href="#np" x="982" y="914"/>
<use href="#np" x="982" y="898"/>
<use href="#np" x="982" y="882"/>
<use href="#np" x="982" y="866"/>
<use href="#nb" x="995" y="938"/>
<use href="#nb" x="995" y="914"/>
<use href="#nb" x="995" y="898"/>
<use href="#nb" x="995" y="882"/>
<use href="#nb" x="995" y="866"/>
<use href="#ng" x="1008" y="850"/>
<use href="#ny" x="1021" y="946"/>
<use href="#ny" x="1021" y="906"/>
<use href="#ny" x="1021" y="890"/>
<use href="#ny" x="1021" y="874"/>
<use href="#ny" x="1021" y="858"/>
<use href="#ny" x="943" y="706"/>
<use href="#nb" x="969" y="706"/>
<use href="#np" x="982" y="818"/>
<use href="#np" x="982" y="770"/>
<use href="#np" x="982" y="738"/>
<use href="#nb" x="995" y="818"/>
<use href="#nb" x="995" y="722"/>
<use href="#ng" x="1008" y="730"/>
<use href="#ng" x="1008" y="706"/>
<use href="#ny" x="1021" y="794"/>
<use href="#nw" x="930" y="602"/>
<use href="#nw" x="930" y="578"/>
<use href="#ny" x="943" y="666"/>
<use href="#ny" x="943" y="610"/>
<use href="#ng" x="956" y="618"/>
<use href="#ng" x="956" y="596"/>
<use href="#nb" x="969" y="658"/>
<use href="#nb" x="969" y="626"/>
<use href="#nb" x="995" y="674"/>
<use href="#ny" x="1021" y="674"/>
<use href="#ny" x="1021" y="594"/>
<use href="#nw" x="1034" y="578"/>
<use href="#ng" x="1086" y="1170"/>
<use href="#ng" x="1086" y="1090"/>
<use href="#np" x="1112" y="1122"/>
<use href="#ng" x="1138" y="1138"/>
<use href="#np" x="1112" y="1058"/>
<use href="#np" x="1112" y="994"/>
<use href="#ng" x="1138" y="1026"/>
<use href="#nw" x="1164" y="978"/>
<use href="#ng" x="1086" y="834"/>
<use href="#np" x="1112" y="914"/>
<use href="#np" x="1112" y="866"/>
<use href="#ng" x="1138" y="946"/>
<use href="#ng" x="1138" y="882"/>
<use href="#np" x="1112" y="802"/>
<use href="#np" x="1112" y="738"/>
<use href="#ng" x="1138" y="770"/>
<use href="#nw" x="1164" y="722"/>
<path d="M43 340h7v1h2v1h1V536H40V342h1v-1h2z"/>
<path d="M43 341h7v1h2V536H41V342h2z" fill="#80ff80"/>
<use href="#hg" x="46" y="535"/>
<path d="M161 284h5v1h2v1h1V312H158V286h1v-1h2z"/>
<path d="M161 285h5v1h2V312H159V286h2z" fill="#ffff00"/>
<use href="#hy" x="163" y="311"/>
<path d="M213 284h5v1h2v1h1V312H210V286h1v-1h2z"/>
<path d="M213 285h5v1h2V312H211V286h2z" fill="#a6ecfa"/>
<path d="M213 286h5v1h1V312H212V287h1z" fill="#9ad9ea"/>
<use href="#hb" x="215" y="311"/>
<path d="M187 28h5v1h2v1h1V56H184V30h1v-1h2z"/>
<path d="M187 29h5v1h2V56H185V30h2z" fill="#a6ecfa"/>
<path d="M187 30h5v1h1V56H186V31h1z" fill="#9ad9ea"/>
<use href="#hb" x="189" y="55"/>
<path d="M213 28h5v1h2v1h1V56H210V30h1v-1h2z"/>
<path d="M213 29h5v1h2V56H211V30h2z" fill="#a6ecfa"/>
<path d="M213 30h5v1h1V56H212V31h1z" fill="#9ad9ea"/>
<use href="#hb" x="215" y="55"/>
<path d="M239 28h5v1h2v1h1V56H236V30h1v-1h2z"/>
<path d="M239 29h5v1h2V56H237V30h2z" fill="#ffff00"/>
<use href="#hy" x="241" y="55"/>
<path d="M317 284h5v1h2v1h1V312H314V286h1v-1h2z"/>
<path d="M317 285h5v1h2V312H315V286h2z" fill="#a6ecfa"/>
<path d="M317 286h5v1h1V312H316V287h1z" fill="#9ad9ea"/>
<use href="#hb" x="319" y="311"/>
<path d="M343 284h5v1h2v1h1V312H340V286h1v-1h2z"/>
<path d="M343 285h5v1h2V312H341V286h2z" fill="#a6ecfa"/>
<path d="M343 286h5v1h1V312H342V287h1z" fill="#9ad9ea"/>
<use href="#hb" x="345" y="311"/>
<path d="M369 284h5v1h2v1h1V312H366V286h1v-1h2z"/>
<path d="M369 285h5v1h2V312H367V286h2z" fill="#ffff00"/>
<use href="#hy" x="371" y="311"/>
<path d="M421 56h5v1h2v1h1V103H418V58h1v-1h2z"/>
<path d="M421 57h5v1h2V103H419V58h2z" fill="#ffff00"/>
<use href="#hy" x="423" y="102"/>
<path d="M459 53h7v1h2v1h1V106H456V55h1v-1h2z"/>
<path d="M459 54h7v1h2V106H457V55h2z" fill="#ffaacc"/>
<use href="#hp" x="462" y="105"/>
<path d="M551 68h5v1h2v1h1V104H548V70h1v-1h2z"/>
<path d="M551 69h5v1h2V104H549V70h2z" fill="#ffff00"/>
<use href="#hy" x="553" y="103"/>
<path d="M589 67h7v1h2v1h1V103H586V69h1v-1h2z"/>
<path d="M589 68h7v1h2V103H587V69h2z" fill="#ffaacc"/>
<use href="#hp" x="592" y="102"/>
<path d="M667 60h7v1h2v1h1V104H664V62h1v-1h2z"/>
<path d="M667 61h7v1h2V104H665V62h2z" fill="#c0c0c0"/>
<path d="M668 63h5v1h1V104H667V64h1z" fill="#ffffff"/>
<use href="#hw" x="670" y="103"/>
<path d="M719 58h7v1h2v1h1V102H716V60h1v-1h2z"/>
<path d="M719 59h7v1h2V102H717V60h2z" fill="#ffaacc"/>
<use href="#hp" x="722" y="101"/>
<path d="M875 721h7v1h2v1h1V773H872V723h1v-1h2z"/>
<path d="M875 722h7v1h2V773H873V723h2z" fill="#80ff80"/>
<use href="#hg" x="878" y="772"/>
<path d="M953 719h7v1h2v1h1V819H950V721h1v-1h2z"/>
<path d="M953 720h7v1h2V819H951V721h2z" fill="#80ff80"/>
<use href="#hg" x="956" y="818"/>
<path d="M1005 599h7v1h2v1h1V659H1002V601h1v-1h2z"/>
<path d="M1005 600h7v1h2V659H1003V601h2z" fill="#80ff80"/>
<use href="#hg" x="1008" y="658"/>
<path d="M1031 599h7v1h2v1h1V659H1028V601h1v-1h2z"/>
<path d="M1031 600h7v1h2V659H1029V601h2z" fill="#c0c0c0"/>
<path d="M1032 602h5v1h1V659H1031V603h1z" fill="#ffffff"/>
<use href="#hw" x="1034" y="658"/>
<path d="M1239 815h7v1h2v1h1V1203H1236V817h1v-1h2z"/>
<path d="M1239 816h7v1h2V1203H1237V817h2z" fill="#ffaacc"/>
<use href="#hp" x="1242" y="1202"/>
</svg></body></html>
